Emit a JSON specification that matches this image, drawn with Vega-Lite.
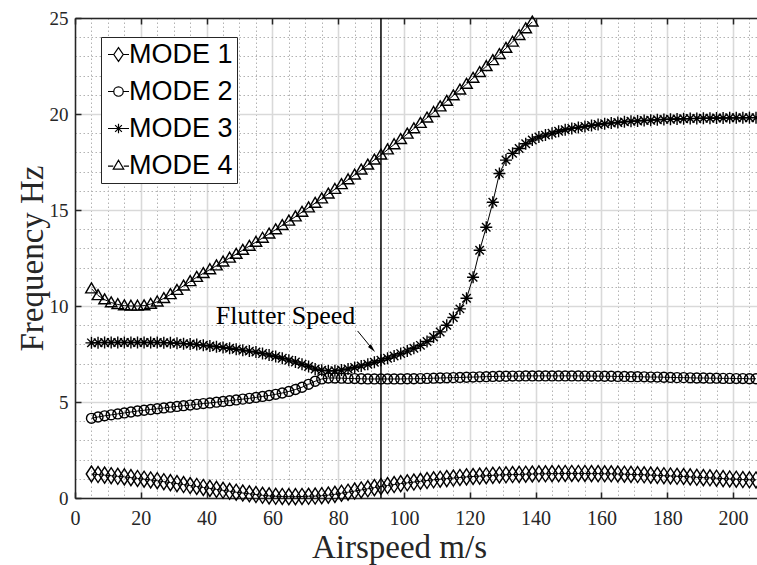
{
  "$schema": "https://vega.github.io/schema/vega-lite/v6.json",
  "width": 682,
  "height": 480,
  "autosize": {"type": "none"},
  "padding": {"left": 75, "top": 18, "right": 0, "bottom": 67},
  "background": "white",
  "config": {
    "view": {"stroke": null},
    "axis": {
      "labelFont": "Liberation Serif",
      "titleFont": "Liberation Serif",
      "labelColor": "#262626",
      "titleColor": "#262626",
      "titleFontWeight": "normal",
      "domainColor": "#262626",
      "domainWidth": 1.5,
      "tickColor": "#262626",
      "tickWidth": 1.5,
      "labelOverlap": false
    }
  },
  "datasets": {
    "modes": [
      {"s":5,"m1":1.25,"m2":4.15,"m3":8.08,"m4":10.9},
      {"s":7,"m1":1.22,"m2":4.22,"m3":8.09,"m4":10.55},
      {"s":9,"m1":1.19,"m2":4.28,"m3":8.1,"m4":10.33},
      {"s":11,"m1":1.16,"m2":4.33,"m3":8.1,"m4":10.18},
      {"s":13,"m1":1.13,"m2":4.38,"m3":8.1,"m4":10.08},
      {"s":15,"m1":1.1,"m2":4.43,"m3":8.1,"m4":10.02},
      {"s":17,"m1":1.06,"m2":4.48,"m3":8.1,"m4":10.0},
      {"s":19,"m1":1.02,"m2":4.53,"m3":8.1,"m4":10.0},
      {"s":21,"m1":0.98,"m2":4.57,"m3":8.1,"m4":10.02},
      {"s":23,"m1":0.94,"m2":4.61,"m3":8.1,"m4":10.1},
      {"s":25,"m1":0.9,"m2":4.65,"m3":8.1,"m4":10.22},
      {"s":27,"m1":0.85,"m2":4.69,"m3":8.09,"m4":10.4},
      {"s":29,"m1":0.8,"m2":4.73,"m3":8.08,"m4":10.6},
      {"s":31,"m1":0.75,"m2":4.77,"m3":8.06,"m4":10.82},
      {"s":33,"m1":0.7,"m2":4.81,"m3":8.04,"m4":11.05},
      {"s":35,"m1":0.65,"m2":4.84,"m3":8.02,"m4":11.28},
      {"s":37,"m1":0.6,"m2":4.88,"m3":7.99,"m4":11.5},
      {"s":39,"m1":0.55,"m2":4.92,"m3":7.96,"m4":11.7},
      {"s":41,"m1":0.5,"m2":4.95,"m3":7.92,"m4":11.9},
      {"s":43,"m1":0.45,"m2":4.99,"m3":7.88,"m4":12.1},
      {"s":45,"m1":0.4,"m2":5.03,"m3":7.84,"m4":12.3},
      {"s":47,"m1":0.35,"m2":5.07,"m3":7.8,"m4":12.5},
      {"s":49,"m1":0.3,"m2":5.11,"m3":7.75,"m4":12.7},
      {"s":51,"m1":0.26,"m2":5.15,"m3":7.7,"m4":12.91},
      {"s":53,"m1":0.22,"m2":5.19,"m3":7.65,"m4":13.12},
      {"s":55,"m1":0.18,"m2":5.24,"m3":7.6,"m4":13.33},
      {"s":57,"m1":0.14,"m2":5.29,"m3":7.53,"m4":13.54},
      {"s":59,"m1":0.11,"m2":5.34,"m3":7.45,"m4":13.76},
      {"s":61,"m1":0.09,"m2":5.4,"m3":7.37,"m4":13.98},
      {"s":63,"m1":0.08,"m2":5.47,"m3":7.28,"m4":14.2},
      {"s":65,"m1":0.07,"m2":5.55,"m3":7.18,"m4":14.43},
      {"s":67,"m1":0.07,"m2":5.65,"m3":7.08,"m4":14.65},
      {"s":69,"m1":0.08,"m2":5.77,"m3":6.97,"m4":14.89},
      {"s":71,"m1":0.09,"m2":5.92,"m3":6.85,"m4":15.12},
      {"s":73,"m1":0.1,"m2":6.08,"m3":6.72,"m4":15.36},
      {"s":75,"m1":0.12,"m2":6.2,"m3":6.65,"m4":15.59},
      {"s":77,"m1":0.15,"m2":6.25,"m3":6.62,"m4":15.84},
      {"s":79,"m1":0.19,"m2":6.25,"m3":6.63,"m4":16.08},
      {"s":81,"m1":0.25,"m2":6.24,"m3":6.67,"m4":16.33},
      {"s":83,"m1":0.3,"m2":6.23,"m3":6.72,"m4":16.58},
      {"s":85,"m1":0.36,"m2":6.22,"m3":6.8,"m4":16.83},
      {"s":87,"m1":0.42,"m2":6.21,"m3":6.88,"m4":17.09},
      {"s":89,"m1":0.48,"m2":6.2,"m3":6.97,"m4":17.35},
      {"s":91,"m1":0.54,"m2":6.2,"m3":7.07,"m4":17.61},
      {"s":93,"m1":0.6,"m2":6.2,"m3":7.17,"m4":17.87},
      {"s":95,"m1":0.65,"m2":6.2,"m3":7.28,"m4":18.14},
      {"s":97,"m1":0.7,"m2":6.2,"m3":7.4,"m4":18.41},
      {"s":99,"m1":0.75,"m2":6.2,"m3":7.52,"m4":18.68},
      {"s":101,"m1":0.79,"m2":6.21,"m3":7.65,"m4":18.96},
      {"s":103,"m1":0.83,"m2":6.21,"m3":7.8,"m4":19.24},
      {"s":105,"m1":0.87,"m2":6.22,"m3":7.95,"m4":19.52},
      {"s":107,"m1":0.91,"m2":6.23,"m3":8.15,"m4":19.8},
      {"s":109,"m1":0.95,"m2":6.24,"m3":8.38,"m4":20.09},
      {"s":111,"m1":0.98,"m2":6.25,"m3":8.65,"m4":20.38},
      {"s":113,"m1":1.01,"m2":6.26,"m3":9.0,"m4":20.67},
      {"s":115,"m1":1.04,"m2":6.27,"m3":9.4,"m4":20.96},
      {"s":117,"m1":1.07,"m2":6.28,"m3":9.85,"m4":21.26},
      {"s":119,"m1":1.1,"m2":6.29,"m3":10.4,"m4":21.56},
      {"s":121,"m1":1.12,"m2":6.3,"m3":11.5,"m4":21.87},
      {"s":123,"m1":1.14,"m2":6.31,"m3":12.9,"m4":22.17},
      {"s":125,"m1":1.16,"m2":6.32,"m3":14.1,"m4":22.48},
      {"s":127,"m1":1.18,"m2":6.33,"m3":15.4,"m4":22.79},
      {"s":129,"m1":1.2,"m2":6.34,"m3":16.9,"m4":23.11},
      {"s":131,"m1":1.21,"m2":6.34,"m3":17.6,"m4":23.43},
      {"s":133,"m1":1.22,"m2":6.35,"m3":17.95,"m4":23.75},
      {"s":135,"m1":1.23,"m2":6.35,"m3":18.2,"m4":24.1},
      {"s":137,"m1":1.24,"m2":6.36,"m3":18.45,"m4":24.45},
      {"s":139,"m1":1.25,"m2":6.36,"m3":18.65,"m4":24.8},
      {"s":141,"m1":1.26,"m2":6.36,"m3":18.8},
      {"s":143,"m1":1.26,"m2":6.36,"m3":18.9},
      {"s":145,"m1":1.27,"m2":6.36,"m3":19.0},
      {"s":147,"m1":1.27,"m2":6.36,"m3":19.1},
      {"s":149,"m1":1.28,"m2":6.36,"m3":19.18},
      {"s":151,"m1":1.28,"m2":6.36,"m3":19.25},
      {"s":153,"m1":1.28,"m2":6.36,"m3":19.3},
      {"s":155,"m1":1.28,"m2":6.35,"m3":19.35},
      {"s":157,"m1":1.27,"m2":6.35,"m3":19.4},
      {"s":159,"m1":1.27,"m2":6.35,"m3":19.45},
      {"s":161,"m1":1.26,"m2":6.34,"m3":19.49},
      {"s":163,"m1":1.26,"m2":6.34,"m3":19.53},
      {"s":165,"m1":1.25,"m2":6.33,"m3":19.56},
      {"s":167,"m1":1.24,"m2":6.33,"m3":19.59},
      {"s":169,"m1":1.23,"m2":6.32,"m3":19.62},
      {"s":171,"m1":1.22,"m2":6.32,"m3":19.64},
      {"s":173,"m1":1.21,"m2":6.31,"m3":19.66},
      {"s":175,"m1":1.19,"m2":6.3,"m3":19.68},
      {"s":177,"m1":1.18,"m2":6.3,"m3":19.7},
      {"s":179,"m1":1.16,"m2":6.29,"m3":19.72},
      {"s":181,"m1":1.15,"m2":6.28,"m3":19.73},
      {"s":183,"m1":1.13,"m2":6.27,"m3":19.74},
      {"s":185,"m1":1.12,"m2":6.27,"m3":19.75},
      {"s":187,"m1":1.1,"m2":6.26,"m3":19.76},
      {"s":189,"m1":1.08,"m2":6.25,"m3":19.77},
      {"s":191,"m1":1.06,"m2":6.25,"m3":19.78},
      {"s":193,"m1":1.05,"m2":6.24,"m3":19.78},
      {"s":195,"m1":1.03,"m2":6.24,"m3":19.79},
      {"s":197,"m1":1.01,"m2":6.23,"m3":19.79},
      {"s":199,"m1":0.99,"m2":6.23,"m3":19.8},
      {"s":201,"m1":0.98,"m2":6.22,"m3":19.8},
      {"s":203,"m1":0.96,"m2":6.22,"m3":19.8},
      {"s":205,"m1":0.95,"m2":6.21,"m3":19.81},
      {"s":207,"m1":0.94,"m2":6.21,"m3":19.81}
    ],
    "flutter": [{"s": 93}],
    "note": [{"s": 64, "freq": 9.05, "label": "Flutter Speed"}],
    "arrow": [{"s": 85.9, "freq": 8.7, "s2": 90.2, "freq2": 7.8}],
    "legendrows": []
  },
  "resolve": {"axis": {"x": "independent", "y": "independent"}, "scale": {"shape": "independent"}},
  "layer": [
    {
      "data": {"name": "modes"},
      "transform": [
        {"fold": ["m1", "m2", "m3", "m4"], "as": ["mode", "freq"]},
        {"filter": "isValid(datum.freq)"}
      ],
      "mark": {"type": "line", "color": "black", "strokeWidth": 1},
      "encoding": {
        "x": {
          "field": "s", "type": "quantitative",
          "scale": {"domain": [0, 207.3], "nice": false, "zero": false},
          "axis": {
            "orient": "bottom",
            "values": [5,10,15,25,30,35,45,50,55,65,70,75,85,90,95,105,110,115,125,130,135,145,150,155,165,170,175,185,190,195,205],
            "labels": false,
            "ticks": false,
            "domain": false,
            "title": null,
            "grid": true,
            "gridColor": "#b3b3b3",
            "gridDash": [1.5, 2.5],
            "gridWidth": 1
          }
        },
        "y": {
          "field": "freq", "type": "quantitative",
          "scale": {"domain": [0, 25], "nice": false},
          "axis": {
            "orient": "left",
            "values": [1,2,3,4,6,7,8,9,11,12,13,14,16,17,18,19,21,22,23,24],
            "labels": false,
            "ticks": false,
            "domain": false,
            "title": null,
            "grid": true,
            "gridColor": "#b3b3b3",
            "gridDash": [1.5, 2.5],
            "gridWidth": 1
          }
        },
        "detail": {"field": "mode", "type": "nominal"}
      }
    },
    {
      "data": {"name": "modes"},
      "transform": [
        {"fold": ["m1", "m2", "m3", "m4"], "as": ["mode", "freq"]},
        {"filter": "isValid(datum.freq)"}
      ],
      "mark": {"type": "point", "filled": false, "color": "black", "strokeWidth": 1.4, "size": 256, "opacity": 1},
      "encoding": {
        "x": {
          "field": "s", "type": "quantitative",
          "axis": {
            "orient": "bottom",
            "values": [0,20,40,60,80,100,120,140,160,180,200],
            "labelFontSize": 20,
            "labelPadding": 16,
            "labelFlush": false,
            "tickSize": -6,
            "grid": true,
            "gridColor": "#d9d9d9",
            "gridWidth": 1.6,
            "title": "Airspeed m/s",
            "titleFontSize": 33,
            "titleX": 324,
            "titleY": 59,
            "titleBaseline": "alphabetic",
            "titleAlign": "center"
          }
        },
        "y": {
          "field": "freq", "type": "quantitative",
          "axis": {
            "orient": "left",
            "values": [0,5,10,15,20,25],
            "labelFontSize": 19,
            "labelPadding": 13,
            "labelFlush": false,
            "tickSize": -6,
            "grid": true,
            "gridColor": "#d9d9d9",
            "gridWidth": 1.6,
            "title": "Frequency Hz",
            "titleFontSize": 33,
            "titleX": -33,
            "titleY": 240,
            "titleAngle": -90,
            "titleBaseline": "alphabetic",
            "titleAlign": "center"
          }
        },
        "shape": {
          "field": "mode", "type": "nominal",
          "scale": {
            "domain": ["m1", "m2", "m3", "m4"],
            "range": [
              "M-0.65,0L0,-1L0.65,0L0,1Z",
              "M0.62,0A0.62,0.62,0,1,1,-0.62,0A0.62,0.62,0,1,1,0.62,0Z",
              "M0,-0.75L0,0.75M-0.75,0L0.75,0M-0.53,-0.53L0.53,0.53M-0.53,0.53L0.53,-0.53",
              "M0,-0.72L0.72,0.52L-0.72,0.52Z"
            ]
          },
          "legend": null
        }
      }
    },
    {
      "data": {"name": "legendrows"},
      "mark": {"type": "point", "filled": false, "color": "black", "strokeWidth": 1.2, "opacity": 1},
      "encoding": {
        "x": {"field": "s", "type": "quantitative", "axis": null},
        "y": {"field": "freq", "type": "quantitative", "axis": null},
        "shape": {
          "field": "mode", "type": "nominal",
          "scale": {
            "domain": ["m1", "m2", "m3", "m4"],
            "range": [
              "M-1,0L-0.45,0M0.45,0L1,0M-0.45,0L0,-0.66L0.45,0L0,0.66Z",
              "M-1,0L-0.45,0M0.45,0L1,0M0.45,0A0.45,0.45,0,1,1,-0.45,0A0.45,0.45,0,1,1,0.45,0Z",
              "M-1,0L1,0M0,-0.45L0,0.45M-0.32,-0.32L0.32,0.32M-0.32,0.32L0.32,-0.32",
              "M-1,0.05L-0.5,0.05M0.5,0.05L1,0.05M0,-0.5L0.5,0.35L-0.5,0.35Z"
            ]
          },
          "legend": {
            "orient": "none",
            "legendX": 26,
            "legendY": 19,
            "title": null,
            "labelFont": "Liberation Sans",
            "labelFontSize": 27,
            "labelColor": "black",
            "labelExpr": "'MODE ' + slice(datum.label, 1)",
            "symbolSize": 441,
            "symbolStrokeColor": "black",
            "symbolStrokeWidth": 1.2,
            "symbolFillColor": "transparent",
            "rowPadding": 9,
            "padding": 4,
            "labelOffset": -3,
            "strokeColor": "#262626",
            "fillColor": "white"
          }
        }
      }
    },
    {
      "data": {"name": "flutter"},
      "mark": {"type": "rule", "color": "black", "strokeWidth": 1.5},
      "encoding": {
        "x": {
          "field": "s", "type": "quantitative",
          "axis": {
            "orient": "top",
            "values": [0,20,40,60,80,100,120,140,160,180,200],
            "labels": false,
            "title": null,
            "grid": false,
            "tickSize": -6
          }
        }
      }
    },
    {
      "data": {"name": "note"},
      "mark": {"type": "text", "font": "Liberation Serif", "fontSize": 26, "align": "center", "baseline": "alphabetic", "color": "black"},
      "encoding": {
        "x": {"field": "s", "type": "quantitative", "axis": null},
        "y": {"field": "freq", "type": "quantitative", "axis": null},
        "text": {"field": "label"}
      }
    },
    {
      "data": {"name": "arrow"},
      "mark": {"type": "rule", "color": "black", "strokeWidth": 1},
      "encoding": {
        "x": {"field": "s", "type": "quantitative", "axis": null},
        "y": {"field": "freq", "type": "quantitative", "axis": null},
        "x2": {"field": "s2"},
        "y2": {"field": "freq2"}
      }
    },
    {
      "data": {"name": "arrow"},
      "mark": {"type": "point", "shape": "M0,-1L0.4,0.7L-0.4,0.7Z", "filled": true, "color": "black", "size": 100, "angle": 138, "opacity": 1},
      "encoding": {
        "x": {"field": "s2", "type": "quantitative", "axis": null},
        "y": {"field": "freq2", "type": "quantitative", "axis": null}
      }
    }
  ]
}
